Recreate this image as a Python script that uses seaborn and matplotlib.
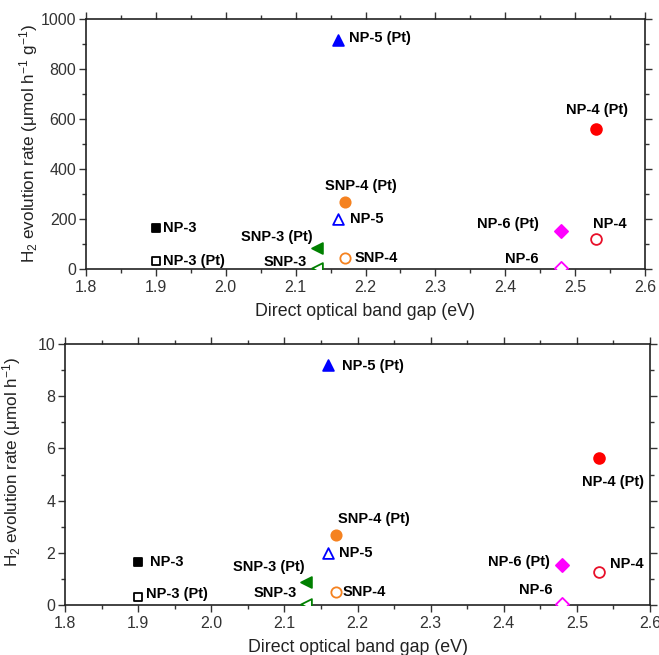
import matplotlib
matplotlib.use("Agg")
import matplotlib.pyplot as plt
from matplotlib.ticker import MultipleLocator
import seaborn as sns
import pandas as pd

# ---- data ----
samples = ["NP-3", "NP-3 (Pt)", "SNP-3 (Pt)", "SNP-3", "NP-5 (Pt)", "NP-5",
           "SNP-4 (Pt)", "SNP-4", "NP-6 (Pt)", "NP-6", "NP-4 (Pt)", "NP-4"]
band_gap = [1.90, 1.90, 2.13, 2.13, 2.16, 2.16, 2.17, 2.17, 2.48, 2.48, 2.53, 2.53]
rate_per_gram = [165, 30, 85, 3, 915, 200, 268, 45, 152, 2, 560, 121]
rate = [1.63, 0.30, 0.87, 0.05, 9.2, 2.0, 2.7, 0.5, 1.55, 0.02, 5.65, 1.25]

# ---- styles ----
colors = ["#000000", "#000000", "#008000", "#008000", "#0000ff", "#0000ff",
          "#f58220", "#f58220", "#ff00ff", "#ff00ff", "#ff0000", "#e8102a"]
markers = ["s", "s", "<", "<", "^", "^", "o", "o", "D", "D", "o", "o"]
filled = [True, False, True, False, True, False, True, False, True, False, True, False]
sizes = [38, 38, 60, 60, 60, 60, 55, 55, 45, 45, 60, 60]

# label offsets in pixels (dx, dy, ha) for each panel
offs_top = [(7, 0, "left"), (7, 0, "left"), (-4, 11, "right"), (-10, 6, "right"),
            (11, 2, "left"), (12, 0, "left"), (16, 16, "center"), (10, 0, "left"),
            (-22, 7, "right"), (-23, 9, "right"), (1, 19, "center"), (14, 15, "center")]
offs_bot = [(12, 0, "left"), (8, 3, "left"), (-2, 15, "right"), (-9, 11, "right"),
            (14, -1, "left"), (11, 0, "left"), (2, 16, "left"), (7, 0, "left"),
            (-12, 3, "right"), (-10, 14, "right"), (14, -24, "center"), (11, 8, "left")]

df = pd.DataFrame({"sample": samples, "band_gap": band_gap,
                   "rate_g": rate_per_gram, "rate": rate})

sns.set_style("ticks")
plt.rcParams["font.family"] = ["Liberation Sans", "DejaVu Sans"]
plt.rcParams["mathtext.default"] = "regular"

W, H = 659, 655
fig = plt.figure(figsize=(W / 100, H / 100), dpi=100)
ax1 = fig.add_axes([86 / W, 1 - 269 / H, 559 / W, 250 / H])
ax2 = fig.add_axes([65 / W, 1 - 605 / H, 585 / W, 261 / H])


def draw(ax, ycol, offs, ymax, ymajor, yminor, ylabel, ylab_y):
    for i, row in df.iterrows():
        fc = colors[i] if filled[i] else "white"
        sns.scatterplot(x=[row["band_gap"]], y=[row[ycol]], ax=ax, marker=markers[i],
                        s=sizes[i], facecolor=fc, edgecolor=colors[i], linewidth=1.3,
                        zorder=3, clip_on=True, legend=False)
        dx, dy, ha = offs[i]
        ax.annotate(row["sample"], (row["band_gap"], row[ycol]),
                    xytext=(dx * 0.72, dy * 0.72), textcoords="offset points",
                    ha=ha, va="center", fontsize=10.5, fontweight="bold", color="black",
                    annotation_clip=False)
    ax.set_xlim(1.8, 2.6)
    ax.set_ylim(0, ymax)
    ax.xaxis.set_major_locator(MultipleLocator(0.1))
    ax.xaxis.set_minor_locator(MultipleLocator(0.05))
    ax.yaxis.set_major_locator(MultipleLocator(ymajor))
    ax.yaxis.set_minor_locator(MultipleLocator(yminor))
    ax.xaxis.set_major_formatter(matplotlib.ticker.FormatStrFormatter("%.1f"))
    ax.tick_params(which="both", direction="out", top=True, right=True,
                   labeltop=False, labelright=False, width=1.0, colors="#333333",
                   labelcolor="#333333")
    ax.tick_params(which="major", length=5, labelsize=11.5)
    ax.tick_params(which="minor", length=3)
    ax.tick_params(axis="y", which="major", pad=2)
    ax.tick_params(axis="x", which="major", pad=3)
    for sp in ax.spines.values():
        sp.set_visible(True)
        sp.set_linewidth(1.2)
        sp.set_color("#222222")
    ax.set_xlabel("Direct optical band gap (eV)", fontsize=12.8, color="#222222", labelpad=6)
    ax.set_ylabel(ylabel, fontsize=12.3, color="#222222", labelpad=6)
    ax.yaxis.set_label_coords(ax.yaxis.get_label().get_position()[0], ylab_y)
    ax.set_facecolor("white")


draw(ax1, "rate_g", offs_top, 1000, 200, 100,
     "H$_2$ evolution rate (μmol h$^{-1}$ g$^{-1}$)", 0.5)
draw(ax2, "rate", offs_bot, 10, 2, 1,
     "H$_2$ evolution rate (μmol h$^{-1}$)", 0.548)

# position y labels (axes fraction x) to match reference placement
ax1.yaxis.set_label_coords(-0.083, 0.5)
ax2.yaxis.set_label_coords(-0.072, 0.548)

fig.savefig("out.png", dpi=100, facecolor="white")
